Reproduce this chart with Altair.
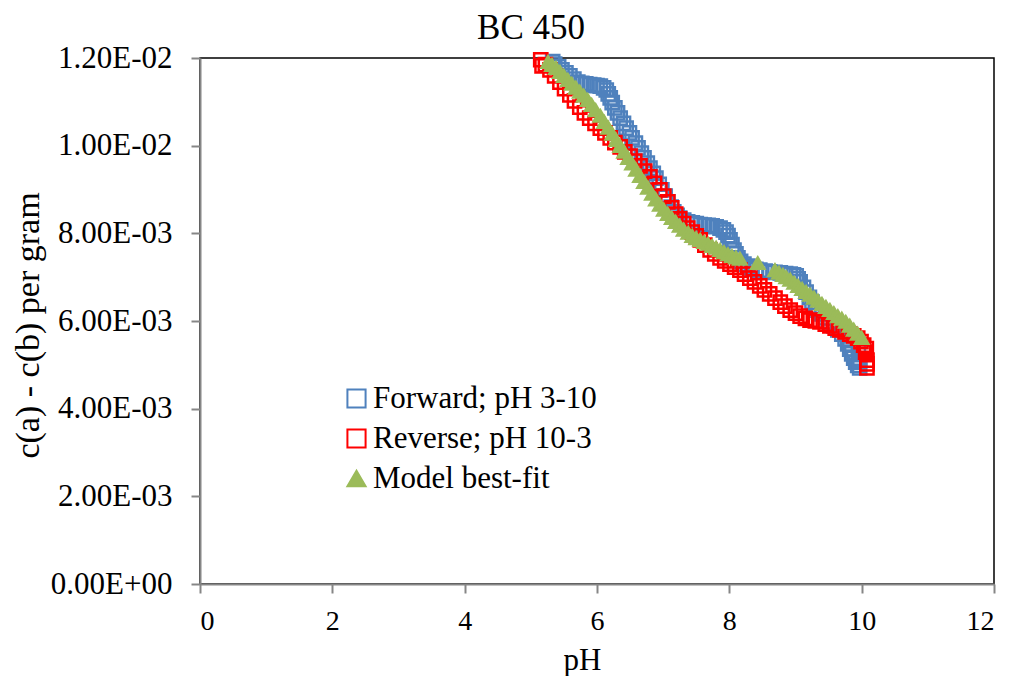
import altair as alt
import pandas as pd

# Forward titration (pH 3-10), values in units of 1e-3
forward_ph = [5.33, 5.36, 5.42, 5.47, 5.53, 5.59, 5.65, 5.71, 5.77, 5.83, 5.89, 5.95, 6.00, 6.05,
              6.10, 6.14, 6.17, 6.20, 6.23, 6.27, 6.31, 6.35, 6.40, 6.44, 6.49, 6.53, 6.58, 6.62,
              6.67, 6.71, 6.76, 6.80, 6.85, 6.89, 6.94, 6.98, 7.03, 7.07, 7.12, 7.16, 7.21, 7.25,
              7.31, 7.37, 7.44, 7.50, 7.56, 7.62, 7.68, 7.74, 7.80, 7.86, 7.91, 7.95, 7.98, 8.01,
              8.04, 8.07, 8.10, 8.13, 8.17, 8.22, 8.28, 8.34, 8.40, 8.46, 8.54, 8.61, 8.69, 8.77,
              8.85, 8.92, 8.97, 9.01, 9.04, 9.07, 9.12, 9.16, 9.21, 9.25, 9.30, 9.34, 9.40, 9.46,
              9.52, 9.58, 9.64, 9.70, 9.75, 9.79, 9.82, 9.85, 9.88, 9.91, 9.94, 9.97, 9.95, 9.97]
forward_val = [11.92, 11.86, 11.80, 11.73, 11.66, 11.59, 11.52, 11.45, 11.42, 11.41, 11.39, 11.38,
               11.37, 11.36, 11.32, 11.27, 11.18, 11.09, 10.98, 10.86, 10.75, 10.63, 10.51, 10.40,
               10.29, 10.18, 10.06, 9.95, 9.83, 9.72, 9.60, 9.49, 9.37, 9.26, 9.12, 8.99, 8.85,
               8.72, 8.60, 8.49, 8.41, 8.35, 8.30, 8.26, 8.24, 8.22, 8.20, 8.19, 8.18, 8.17, 8.15,
               8.12, 8.08, 8.03, 7.95, 7.85, 7.74, 7.62, 7.53, 7.44, 7.36, 7.30, 7.25, 7.21, 7.18,
               7.16, 7.14, 7.12, 7.11, 7.10, 7.08, 7.07, 7.05, 7.03, 6.96, 6.89, 6.77, 6.66, 6.54,
               6.43, 6.34, 6.25, 6.16, 6.07, 5.98, 5.89, 5.80, 5.70, 5.59, 5.48, 5.36, 5.25, 5.15,
               5.06, 4.99, 4.93, 5.30, 5.10]

# Reverse titration (pH 10-3)
reverse_ph = [5.15, 5.17, 5.22, 5.29, 5.36, 5.44, 5.51, 5.59, 5.66, 5.74, 5.81, 5.89, 5.97, 6.05,
              6.12, 6.20, 6.27, 6.35, 6.42, 6.50, 6.57, 6.65, 6.72, 6.80, 6.87, 6.95, 7.01, 7.07,
              7.13, 7.19, 7.25, 7.31, 7.37, 7.44, 7.50, 7.56, 7.63, 7.71, 7.78, 7.86, 7.93, 8.01,
              8.08, 8.16, 8.23, 8.31, 8.38, 8.46, 8.53, 8.61, 8.69, 8.77, 8.84, 8.92, 9.00, 9.07,
              9.15, 9.22, 9.30, 9.37, 9.45, 9.52, 9.60, 9.67, 9.75, 9.82, 9.88, 9.94, 9.99, 10.03,
              10.06, 10.08, 10.08, 10.07, 10.08]
reverse_val = [11.96, 11.82, 11.85, 11.73, 11.59, 11.45, 11.30, 11.16, 11.02, 10.88, 10.75, 10.63,
               10.51, 10.40, 10.29, 10.18, 10.07, 9.97, 9.86, 9.76, 9.65, 9.54, 9.42, 9.29, 9.14,
               8.99, 8.85, 8.72, 8.58, 8.44, 8.33, 8.22, 8.12, 8.03, 7.94, 7.85, 7.73, 7.62, 7.53,
               7.44, 7.37, 7.30, 7.23, 7.16, 7.07, 6.98, 6.89, 6.80, 6.71, 6.62, 6.52, 6.43, 6.34,
               6.25, 6.18, 6.11, 6.06, 6.02, 6.00, 5.98, 5.93, 5.89, 5.84, 5.80, 5.75, 5.70, 5.66,
               5.61, 5.53, 5.45, 5.29, 5.11, 4.93, 5.37, 5.02]

# Model best-fit
model_ph = [5.26, 5.32, 5.38, 5.44, 5.50, 5.56, 5.62, 5.68, 5.74, 5.80, 5.86, 5.92, 5.98, 6.05,
            6.11, 6.17, 6.23, 6.29, 6.35, 6.41, 6.47, 6.53, 6.59, 6.65, 6.71, 6.77, 6.83, 6.89,
            6.95, 7.01, 7.07, 7.13, 7.19, 7.25, 7.31, 7.38, 7.44, 7.50, 7.56, 7.62, 7.68, 7.74,
            7.80, 7.86, 7.92, 7.98, 8.04, 8.10, 8.16, 8.43, 8.69, 8.75, 8.81, 8.86, 8.92, 8.98,
            9.04, 9.10, 9.16, 9.22, 9.28, 9.34, 9.40, 9.46, 9.52, 9.58, 9.64, 9.70, 9.76, 9.82,
            9.88, 9.94, 10.00]
model_val = [11.91, 11.84, 11.77, 11.68, 11.59, 11.50, 11.41, 11.32, 11.23, 11.14, 11.04, 10.93,
             10.81, 10.68, 10.54, 10.41, 10.27, 10.13, 9.99, 9.86, 9.72, 9.59, 9.45, 9.31, 9.17,
             9.04, 8.90, 8.77, 8.65, 8.54, 8.44, 8.35, 8.26, 8.17, 8.08, 8.01, 7.94, 7.89, 7.85,
             7.80, 7.76, 7.71, 7.67, 7.62, 7.57, 7.52, 7.48, 7.45, 7.42, 7.32, 7.16, 7.10, 7.05,
             7.00, 6.94, 6.87, 6.80, 6.73, 6.66, 6.60, 6.53, 6.46, 6.39, 6.32, 6.25, 6.18, 6.11,
             6.05, 5.98, 5.89, 5.80, 5.71, 5.61]

series_names = ["Forward; pH 3-10", "Reverse; pH 10-3", "Model best-fit"]
stroke_colors = ["#4F81BD", "#FF0000", "#9BBB59"]
fill_colors = ["transparent", "transparent", "#9BBB59"]
shapes = ["square", "square", "triangle-up"]
chart_title = "BC 450"

rows = []
for k, (name, xs, ys) in enumerate(zip(series_names, [forward_ph, reverse_ph, model_ph],
                                       [forward_val, reverse_val, model_val])):
    for x, y in zip(xs, ys):
        rows.append({"series": name, "pH": x, "val": y * 1e-3, "idx": k})
df = pd.DataFrame(rows)

FONT = "Liberation Serif"
AXC = "#868686"

y_label_expr = ("datum.value == 0 ? '0.00E+00' : (datum.value >= 0.0099 ? "
                "format(datum.value*100, '.2f') + 'E-02' : format(datum.value*1000, '.2f') + 'E-03')")

sc = alt.Scale(domain=series_names, range=stroke_colors)
fc = alt.Scale(domain=series_names, range=fill_colors)
shc = alt.Scale(domain=series_names, range=shapes)

legend = alt.Legend(
    title=None, orient="none", legendX=141, legendY=325,
    labelFont=FONT, labelFontSize=31, labelColor="black", labelLimit=400,
    symbolSize=330, symbolStrokeWidth=2, labelOffset=1, rowPadding=8, padding=0,
)

points = alt.Chart(df).mark_point(strokeWidth=2.5, size=175, opacity=1).encode(
    x=alt.X("pH:Q", scale=alt.Scale(domain=[0, 12], nice=False, zero=False),
            axis=alt.Axis(values=[0, 2, 4, 6, 8, 10, 12], grid=False, title="pH",
                          domainColor=AXC, domainWidth=2, tickColor=AXC, tickWidth=2, tickSize=9,
                          labelFont=FONT, labelFontSize=28, labelColor="black", labelPadding=14,
                          titleFont=FONT, titleFontSize=31, titleFontWeight="normal", titleColor="black",
                          titleX=382, titleY=85, titleBaseline="alphabetic", titleAlign="center")),
    y=alt.Y("val:Q", scale=alt.Scale(domain=[0, 0.012], nice=False),
            axis=alt.Axis(values=[0, 0.002, 0.004, 0.006, 0.008, 0.01, 0.012], grid=False,
                          title="c(a) - c(b) per gram", labelExpr=y_label_expr,
                          domainColor=AXC, domainWidth=2, tickColor=AXC, tickWidth=2, tickSize=9,
                          labelFont=FONT, labelFontSize=31, labelColor="black", labelPadding=19,
                          titleFont=FONT, titleFontSize=34, titleFontWeight="normal", titleColor="black",
                          titleX=-162, titleY=267, titleBaseline="alphabetic", titleAlign="center",
                          titleAngle=270)),
    stroke=alt.Stroke("series:N", scale=sc, legend=legend),
    fill=alt.Fill("series:N", scale=fc, legend=legend),
    shape=alt.Shape("series:N", scale=shc, legend=legend),
    order=alt.Order("idx:Q"),
)

title_text = alt.Chart(pd.DataFrame({"t": [chart_title]})).mark_text(
    font=FONT, fontSize=35, color="black", align="center", baseline="alphabetic"
).encode(text="t:N", x=alt.value(331), y=alt.value(-19))

chart = alt.layer(points, title_text).properties(
    width=794, height=526,
    autosize=alt.AutoSizeParams(type="none"),
    padding={"left": 192, "top": 50, "right": 10, "bottom": 92},
).configure_view(stroke="black", strokeWidth=1.5).configure_legend(labelFont=FONT)

chart.save("out.html", embed_options={"renderer": "svg", "actions": False})
